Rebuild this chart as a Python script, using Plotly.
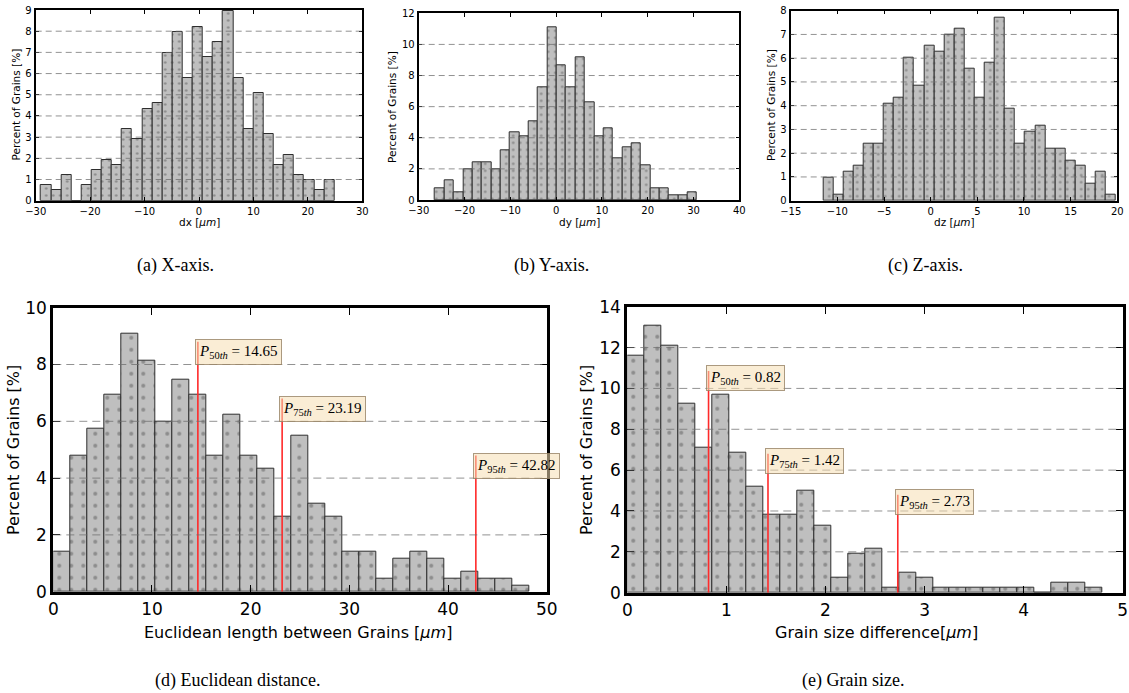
import numpy as np
import plotly.graph_objects as go

W, H = 1129, 693

# ---------------- data ----------------
# (a) dx histogram
a_start, a_width = -29.0, 1.858
a_vals = [0.74, 0.49, 1.21, 0, 0.74, 1.45, 1.93, 1.69, 3.38, 2.90, 4.35, 4.59, 6.99, 7.97,
          5.80, 8.21, 6.76, 7.49, 8.94, 5.80, 3.38, 5.07, 3.14, 1.69, 2.17, 1.21, 0.97, 0.49, 0.97]
# (b) dy histogram
b_start, b_width = -26.4, 2.043
b_vals = [0.75, 1.24, 0.51, 1.97, 2.44, 2.44, 1.97, 3.17, 4.35, 4.11, 5.08, 7.22, 11.1, 8.68,
          7.22, 9.17, 6.26, 4.11, 4.60, 2.68, 3.39, 3.62, 2.20, 0.75, 0.75, 0.28, 0.28, 0.51]
# (c) dz histogram
c_start, c_width = -11.5, 1.0814
c_vals = [0.98, 0.24, 1.22, 1.46, 2.41, 2.41, 4.10, 4.35, 6.04, 4.83, 6.51, 6.29, 7.00, 7.23,
          5.54, 4.35, 5.80, 7.72, 3.86, 2.41, 2.89, 3.14, 2.18, 2.18, 1.70, 1.46, 0.73, 1.22, 0.24]
# (d) Euclidean distance histogram
d_start, d_width = 0.0, 1.722
d_vals = [1.42, 4.79, 5.74, 6.95, 9.10, 8.15, 6.00, 7.45, 6.95, 4.80, 6.22, 4.80, 4.33, 2.65,
          5.50, 3.10, 2.65, 1.42, 1.42, 0.46, 1.17, 1.42, 1.17, 0.46, 0.70, 0.46, 0.46, 0.22]
d_pct_names = ["50", "75", "95"]
d_pct_vals = [14.65, 23.19, 42.82]
d_pct_line_top = [8.8, 6.8, 4.8]
d_pct_label_y = [8.44, 6.43, 4.43]
# (e) grain size difference histogram
e_start, e_width = 0.0, 0.1713
e_vals = [11.6, 13.05, 12.1, 9.25, 7.10, 9.70, 6.85, 5.20, 3.80, 3.80, 5.00, 3.30, 0.72, 1.93,
          2.17, 0.24, 0.96, 0.72, 0.24, 0.24, 0.24, 0.24, 0.24, 0.24, 0, 0.48, 0.48, 0.24]
e_pct_names = ["50", "75", "95"]
e_pct_vals = [0.82, 1.42, 2.73]
e_pct_line_top = [10.85, 6.8, 4.8]
e_pct_label_y = [10.5, 6.46, 4.45]

captions = ["(a) X-axis.", "(b) Y-axis.", "(c) Z-axis.", "(d) Euclidean distance.", "(e) Grain size."]
x_titles = ["dx [<i>μm</i>]", "dy [<i>μm</i>]", "dz [<i>μm</i>]",
            "Euclidean length between Grains [<i>μm</i>]", "Grain size difference[<i>μm</i>]"]
y_title = "Percent of Grains [%]"

# ---------------- layout geometry (pixels) ----------------
def px_x(v):
    return v / W

def px_y(v):
    return 1 - v / H

panels = [
    dict(l=35.7, r=362.3, t=10.0, b=200.7, xr=[-30, 30], xd=10, yr=[0, 9], yd=1, small=True,
         start=a_start, width=a_width, vals=a_vals),
    dict(l=418.7, r=739.3, t=13.3, b=200.0, xr=[-30, 40], xd=10, yr=[0, 12], yd=2, small=True,
         start=b_start, width=b_width, vals=b_vals),
    dict(l=790.7, r=1117.3, t=10.7, b=200.7, xr=[-15, 20], xd=5, yr=[0, 8], yd=1, small=True,
         start=c_start, width=c_width, vals=c_vals),
    dict(l=53.3, r=546.7, t=307.7, b=591.7, xr=[0, 50], xd=10, yr=[0, 10], yd=2, small=False,
         start=d_start, width=d_width, vals=d_vals),
    dict(l=627.3, r=1122.7, t=306.7, b=592.7, xr=[0, 5], xd=1, yr=[0, 14], yd=2, small=False,
         start=e_start, width=e_width, vals=e_vals),
]

xlabel_pos = [(199, 222), (579, 222), (954, 222), (298, 632), (876, 632)]
ylabel_pos = [(15.5, 105), (392, 107), (771, 105), (13, 450), (586, 450)]
caption_pos = [(175, 265), (551, 265), (925, 265), (237, 680), (853, 680)]

fig = go.Figure()
layout = dict(width=W, height=H, margin=dict(l=0, r=0, t=0, b=0, pad=0, autoexpand=False),
              paper_bgcolor="white", plot_bgcolor="white", showlegend=False,
              bargap=0)
shapes = []
annotations = []

for i, p in enumerate(panels):
    n = i + 1
    xa = "x" if n == 1 else f"x{n}"
    ya = "y" if n == 1 else f"y{n}"
    xkey = "xaxis" if n == 1 else f"xaxis{n}"
    ykey = "yaxis" if n == 1 else f"yaxis{n}"
    small = p["small"]
    vals = np.array(p["vals"], dtype=float)
    centers = p["start"] + p["width"] * (np.arange(len(vals)) + 0.5)

    fig.add_trace(go.Bar(
        x=centers, y=vals, width=p["width"], xaxis=xa, yaxis=ya,
        marker=dict(color="#bfbfbf",
                    line=dict(color="#2e2e2e", width=1),
                    pattern=dict(shape=".", fgcolor="#5a5a5a",
                                 size=7 if small else 12,
                                 solidity=0.12 if small else 0.09)),
        hoverinfo="skip"))

    tickfs = 10 if small else 17
    lw = 2 if small else 3
    tl = 3.5 if small else 7
    common = dict(ticks="inside", ticklen=tl, tickwidth=1, tickcolor="black",
                  showline=True, linecolor="black", linewidth=lw, mirror="allticks",
                  showgrid=False, zeroline=False, automargin=False,
                  tickfont=dict(family="DejaVu Sans", size=tickfs, color="black"))
    layout[xkey] = dict(domain=[px_x(p["l"]), px_x(p["r"])], range=p["xr"],
                        tick0=p["xr"][0], dtick=p["xd"], anchor=ya, **common)
    layout[ykey] = dict(domain=[px_y(p["b"]), px_y(p["t"])], range=p["yr"],
                        tick0=0, dtick=p["yd"], anchor=xa, **common)

    # dashed horizontal grid drawn above bars (as in the original)
    for v in np.arange(p["yr"][0] + p["yd"], p["yr"][1], p["yd"]):
        shapes.append(dict(type="line", xref=f"{xa} domain", yref=ya, x0=0, x1=1, y0=v, y1=v,
                           line=dict(color="rgba(110,110,110,0.75)", width=1,
                                     dash="6px,4px" if small else "8px,5px"),
                           layer="above"))

    lblfs = 10.5 if small else 16
    annotations.append(dict(text=x_titles[i], x=px_x(xlabel_pos[i][0]), y=px_y(xlabel_pos[i][1]),
                            xref="paper", yref="paper", showarrow=False,
                            font=dict(family="DejaVu Sans", size=lblfs, color="black"),
                            xanchor="center", yanchor="middle"))
    annotations.append(dict(text=y_title, x=px_x(ylabel_pos[i][0]), y=px_y(ylabel_pos[i][1]),
                            xref="paper", yref="paper", showarrow=False, textangle=-90,
                            font=dict(family="DejaVu Sans", size=lblfs, color="black"),
                            xanchor="center", yanchor="middle"))
    annotations.append(dict(text=captions[i], x=px_x(caption_pos[i][0]), y=px_y(caption_pos[i][1]),
                            xref="paper", yref="paper", showarrow=False,
                            font=dict(family="Liberation Serif", size=18, color="black"),
                            xanchor="center", yanchor="middle"))

# percentile markers
def add_percentiles(n, names, vals, tops, label_y):
    xa = f"x{n}"
    ya = f"y{n}"
    for name, v, top, ly in zip(names, vals, tops, label_y):
        fig.add_trace(go.Scatter(x=[v, v], y=[0, top], mode="lines", xaxis=xa, yaxis=ya,
                                 line=dict(color="#ff2a2a", width=1.6), hoverinfo="skip"))
        annotations.append(dict(
            text=f"<i>P</i><sub>{name}<i>th</i></sub> = {v:.2f}",
            x=v, y=ly, xref=xa, yref=ya, showarrow=False, xanchor="left", yanchor="middle",
            xshift=-3, font=dict(family="Liberation Serif", size=15, color="black"),
            bgcolor="rgba(245,222,179,0.55)", bordercolor="rgba(150,130,100,0.8)",
            borderwidth=1, borderpad=3))

add_percentiles(4, d_pct_names, d_pct_vals, d_pct_line_top, d_pct_label_y)
add_percentiles(5, e_pct_names, e_pct_vals, e_pct_line_top, e_pct_label_y)

layout["shapes"] = shapes
layout["annotations"] = annotations
fig.update_layout(**layout)
fig.write_html("out.html", config={"displayModeBar": False},
               post_script="document.body.style.margin='0px';document.body.style.padding='0px';")
